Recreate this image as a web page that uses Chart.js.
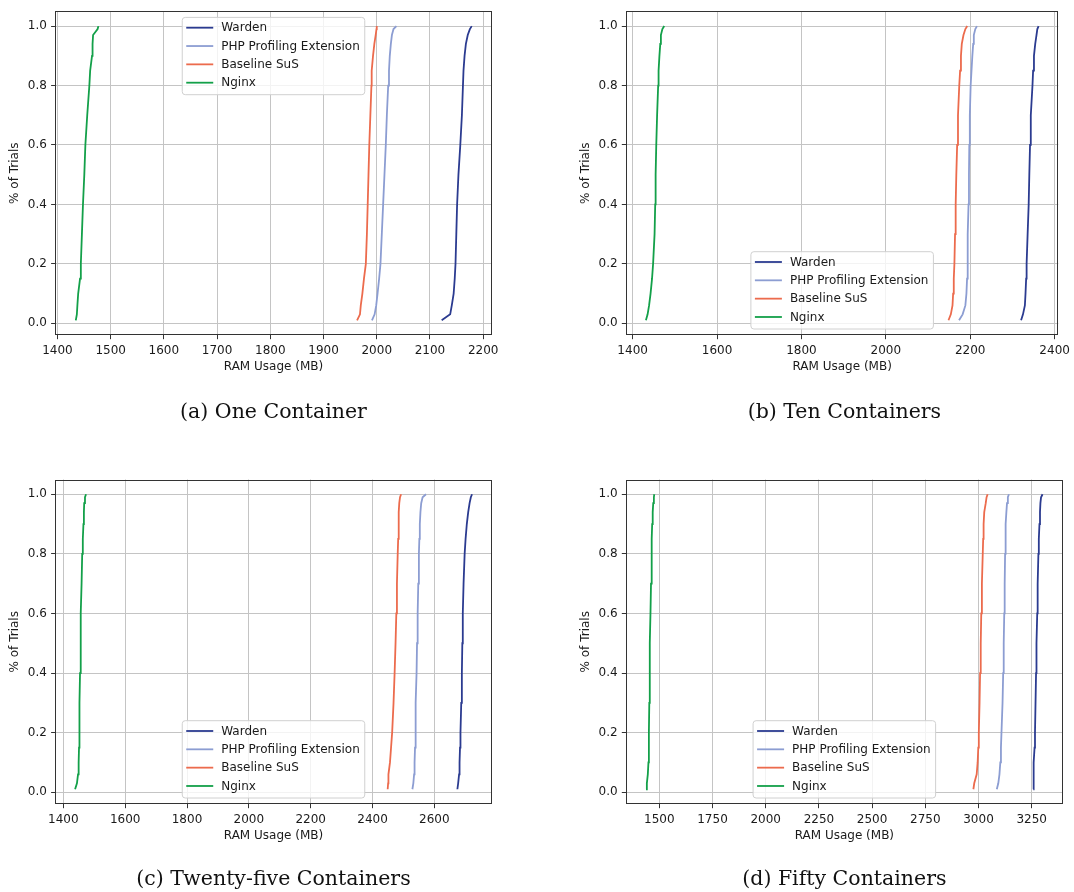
<!DOCTYPE html>
<html>
<head>
<meta charset="utf-8">
<script src="https://cdn.jsdelivr.net/npm/chart.js@4/dist/chart.umd.min.js"></script>
<style>
html,body{margin:0;padding:0;background:#ffffff;}
#wrap{position:relative;width:1074px;height:892px;overflow:hidden;background:#ffffff;}
#wrap canvas{position:absolute;left:0;top:0;}
.cap{position:absolute;font-family:"DejaVu Serif",serif;font-size:20.5px;line-height:1;color:#111;white-space:nowrap;transform:translateX(-50%);}
</style>
</head>
<body>
<div id="wrap">
  <canvas id="c0" width="1074" height="892"></canvas>
  <canvas id="c1" width="1074" height="892"></canvas>
  <canvas id="c2" width="1074" height="892"></canvas>
  <canvas id="c3" width="1074" height="892"></canvas>
  <div class="cap" style="left:273.5px;top:400.5px">(a) One Container</div>
  <div class="cap" style="left:844.4px;top:400.5px">(b) Ten Containers</div>
  <div class="cap" style="left:273.5px;top:868px">(c) Twenty-five Containers</div>
  <div class="cap" style="left:844.4px;top:868px">(d) Fifty Containers</div>
</div>
<script>
// ---------- DATA ----------
const seriesLabels = ['Warden', 'PHP Profiling Extension', 'Baseline SuS', 'Nginx'];
const seriesColors = ['#2b3b90', '#8c9dd2', '#ec6b4d', '#13a049'];

// cumulative fraction of trials (y) at which each RAM value (x, MB) is read
const yLevels = [0.01, 0.03, 0.06, 0.1, 0.15, 0.2, 0.3, 0.4, 0.5, 0.6, 0.7, 0.8, 0.85, 0.9, 0.94, 0.97, 0.99, 1.0];
const yTicks = [0, 0.2, 0.4, 0.6, 0.8, 1.0];

// (a) One Container
const oneWarden   = [2122, 2138, 2141, 2144.5, 2146.5, 2148, 2149.5, 2151, 2153.5, 2157, 2160, 2162, 2163, 2165, 2167.5, 2171, 2175, 2178.5];
const onePhp      = [1991, 1996, 1999, 2001.5, 2004.5, 2007, 2009.5, 2012, 2014.5, 2017, 2019, 2021.5, 2023, 2024.5, 2026.5, 2028.5, 2031.5, 2037];
const oneBaseline = [1963, 1968.5, 1970, 1973, 1976, 1979.5, 1981.5, 1983, 1984.5, 1986, 1988, 1990, 1990.5, 1993, 1995.5, 1998, 1999.5, 2000];
const oneNginx    = [1434.5, 1436.5, 1437.5, 1439, 1442.5, 1444, 1446, 1448, 1450.5, 1452.5, 1456, 1460, 1461.5, 1465, 1466, 1467, 1475.5, 1477];
const oneXTicks   = [1400, 1500, 1600, 1700, 1800, 1900, 2000, 2100, 2200];
const oneXRange   = [1396, 2216];

// (b) Ten Containers
const tenWarden   = [2320.5, 2325, 2329.5, 2331, 2332.5, 2333.6, 2336, 2338.5, 2340, 2341.7, 2343.5, 2347.5, 2349, 2351, 2354, 2357, 2359, 2362];
const tenPhp      = [2173.5, 2182, 2188.5, 2191, 2192.5, 2193.5, 2194.5, 2196, 2197, 2197.8, 2199, 2201, 2203, 2205, 2207, 2208.5, 2212, 2216];
const tenBaseline = [2148.5, 2154, 2158, 2159.5, 2161, 2162.5, 2164, 2165.5, 2167, 2169, 2171, 2174, 2176, 2178, 2180, 2184, 2188.5, 2193];
const tenNginx    = [1431.5, 1435.5, 1439, 1442.5, 1446, 1448.5, 1452, 1453.5, 1454.5, 1456, 1458, 1460.5, 1461.5, 1463.5, 1465.5, 1467, 1470.5, 1475];
const tenXTicks   = [1400, 1600, 1800, 2000, 2200, 2400];
const tenXRange   = [1384.3, 2408.7];

// (c) Twenty-five Containers
const twentyFiveWarden   = [2674.5, 2677, 2680, 2681.5, 2683, 2684.5, 2687, 2689, 2690.5, 2692, 2694.5, 2698, 2701, 2705, 2709.5, 2714, 2718, 2722];
const twentyFivePhp      = [2529, 2532, 2534.5, 2536, 2537.5, 2538.5, 2540.5, 2542.5, 2544, 2546, 2548, 2550, 2551.5, 2553, 2555, 2557.5, 2562, 2573];
const twentyFiveBaseline = [2449, 2450.5, 2451.5, 2456.5, 2460, 2463.5, 2468, 2471.5, 2474.5, 2477, 2479, 2481.5, 2483, 2484, 2485.5, 2486.5, 2489, 2492.5];
const twentyFiveNginx    = [1438, 1444, 1447.5, 1449.5, 1450.7, 1451.5, 1452.8, 1454, 1455.5, 1457, 1459, 1461, 1463, 1465, 1466.5, 1467.5, 1470, 1473.5];
const twentyFiveXTicks   = [1400, 1600, 1800, 2000, 2200, 2400, 2600];
const twentyFiveXRange   = [1374, 2785.5];

// (d) Fifty Containers
const fiftyWarden   = [3257.5, 3258, 3259, 3260.5, 3263.5, 3265.5, 3268, 3270.5, 3272.5, 3276, 3278, 3281.5, 3283.5, 3286.5, 3289, 3291, 3294, 3301];
const fiftyPhp      = [3086, 3093, 3098.5, 3102.5, 3105.5, 3108, 3113, 3116, 3118.5, 3121, 3123, 3125, 3126.5, 3128.5, 3131, 3134, 3138, 3143];
const fiftyBaseline = [2976, 2980, 2991.5, 2996, 2999, 3001.5, 3005, 3007.5, 3010.5, 3013, 3016, 3020, 3022, 3024, 3027, 3034, 3038, 3043];
const fiftyNginx    = [1437.5, 1441.5, 1446, 1449, 1450.5, 1451.5, 1453, 1454.5, 1456, 1458.5, 1461, 1463.5, 1465, 1466.5, 1469, 1471.5, 1474.5, 1476.5];
const fiftyXTicks   = [1500, 1750, 2000, 2250, 2500, 2750, 3000, 3250];
const fiftyXRange   = [1343.5, 3395.7];

// ---------- LAYOUT / STYLE ----------
const W = 1074, H = 892;
const Y_AXIS_W = 55.3, X_AXIS_H = 45;
const FONT = {family: '"DejaVu Sans", sans-serif', size: 12};
const TEXT = '#1a1a1a';

const panels = [
  {id: 'c0', series: [oneWarden, onePhp, oneBaseline, oneNginx], xTicks: oneXTicks, xRange: oneXRange,
   area: {left: 55.3, right: 491.7, top: 10.7, bottom: 335}, legend: 'upper'},
  {id: 'c1', series: [tenWarden, tenPhp, tenBaseline, tenNginx], xTicks: tenXTicks, xRange: tenXRange,
   area: {left: 626, right: 1062.7, top: 10.7, bottom: 335}, legend: 'lower'},
  {id: 'c2', series: [twentyFiveWarden, twentyFivePhp, twentyFiveBaseline, twentyFiveNginx], xTicks: twentyFiveXTicks, xRange: twentyFiveXRange,
   area: {left: 55.3, right: 491.7, top: 479.5, bottom: 804}, legend: 'lower'},
  {id: 'c3', series: [fiftyWarden, fiftyPhp, fiftyBaseline, fiftyNginx], xTicks: fiftyXTicks, xRange: fiftyXRange,
   area: {left: 626, right: 1062.7, top: 479.5, bottom: 804}, legend: 'lower'}
];

const framePlugin = {
  id: 'mplFrame',
  afterDatasetsDraw(chart) {
    const {ctx, chartArea: a} = chart;
    ctx.save();
    ctx.strokeStyle = '#333333';
    ctx.lineWidth = 1;
    const l = Math.round(a.left) + 0.5, t = Math.round(a.top) + 0.5;
    const r = Math.round(a.right) - 0.5, b = Math.round(a.bottom) - 0.5;
    ctx.strokeRect(l, t, r - l, b - t);
    ctx.restore();
  }
};

const legendPlugin = {
  id: 'mplLegend',
  afterDraw(chart, args, opts) {
    const {ctx, chartArea: a} = chart;
    ctx.save();
    ctx.font = FONT.size + 'px ' + FONT.family;
    const labels = chart.data.datasets.map(d => d.label);
    const tw = Math.max(...labels.map(s => ctx.measureText(s).width));
    const w = 4 + 27 + 8 + tw + 5;
    const h = 77.3;
    const x = (a.left + a.right) / 2 - w / 2;
    const y = opts.where === 'upper' ? a.top + 6 : a.bottom - 6 - h;
    const r = 3;
    ctx.beginPath();
    ctx.moveTo(x + r, y);
    ctx.lineTo(x + w - r, y);
    ctx.quadraticCurveTo(x + w, y, x + w, y + r);
    ctx.lineTo(x + w, y + h - r);
    ctx.quadraticCurveTo(x + w, y + h, x + w - r, y + h);
    ctx.lineTo(x + r, y + h);
    ctx.quadraticCurveTo(x, y + h, x, y + h - r);
    ctx.lineTo(x, y + r);
    ctx.quadraticCurveTo(x, y, x + r, y);
    ctx.closePath();
    ctx.fillStyle = 'rgba(255,255,255,0.8)';
    ctx.fill();
    ctx.strokeStyle = '#d0d0d0';
    ctx.lineWidth = 1;
    ctx.stroke();
    chart.data.datasets.forEach((d, i) => {
      const cy = y + 10.3 + i * 18.33;
      ctx.beginPath();
      ctx.moveTo(x + 4, cy);
      ctx.lineTo(x + 31, cy);
      ctx.strokeStyle = d.borderColor;
      ctx.lineWidth = 1.8;
      ctx.stroke();
      ctx.fillStyle = TEXT;
      ctx.textBaseline = 'middle';
      ctx.textAlign = 'left';
      ctx.fillText(d.label, x + 39, cy + 0.5);
    });
    ctx.restore();
  }
};

function makeChart(p) {
  const datasets = seriesLabels.map((lab, i) => ({
    label: lab,
    data: p.series[i].map((v, j) => ({x: v, y: yLevels[j]})),
    borderColor: seriesColors[i],
    backgroundColor: seriesColors[i],
    borderWidth: 1.8,
    pointRadius: 0,
    pointHoverRadius: 0,
    showLine: true,
    fill: false,
    tension: 0
  }));
  new Chart(document.getElementById(p.id), {
    type: 'scatter',
    data: {datasets},
    options: {
      responsive: false,
      animation: false,
      devicePixelRatio: 1,
      events: [],
      layout: {padding: {left: p.area.left - Y_AXIS_W, top: p.area.top, right: W - p.area.right, bottom: H - p.area.bottom - X_AXIS_H}},
      plugins: {legend: {display: false}, tooltip: {enabled: false}, mplLegend: {where: p.legend}},
      scales: {
        x: {
          type: 'linear',
          min: p.xRange[0], max: p.xRange[1],
          afterBuildTicks: s => { s.ticks = p.xTicks.map(v => ({value: v})); },
          afterFit: s => { s.height = X_AXIS_H; },
          ticks: {font: FONT, color: TEXT, padding: 4, maxRotation: 0, autoSkip: false, callback: v => String(v)},
          grid: {color: '#c4c4c4', lineWidth: 1, drawTicks: true, tickLength: 4.2, tickColor: '#333333', tickWidth: 1},
          border: {display: false},
          title: {display: true, text: 'RAM Usage (MB)', font: FONT, color: TEXT, padding: {top: 0, bottom: 6.1}}
        },
        y: {
          type: 'linear',
          min: -0.0395, max: 1.0495,
          afterBuildTicks: s => { s.ticks = yTicks.map(v => ({value: v})); },
          afterFit: s => { s.width = Y_AXIS_W; },
          ticks: {font: FONT, color: TEXT, padding: 4.2, callback: v => Number(v).toFixed(1)},
          grid: {color: '#c4c4c4', lineWidth: 1, drawTicks: true, tickLength: 4.2, tickColor: '#333333', tickWidth: 1},
          border: {display: false},
          title: {display: true, text: '% of Trials', font: FONT, color: TEXT, padding: {top: 8.1, bottom: 0}}
        }
      }
    },
    plugins: [framePlugin, legendPlugin]
  });
}

panels.forEach(makeChart);
</script>
</body>
</html>
